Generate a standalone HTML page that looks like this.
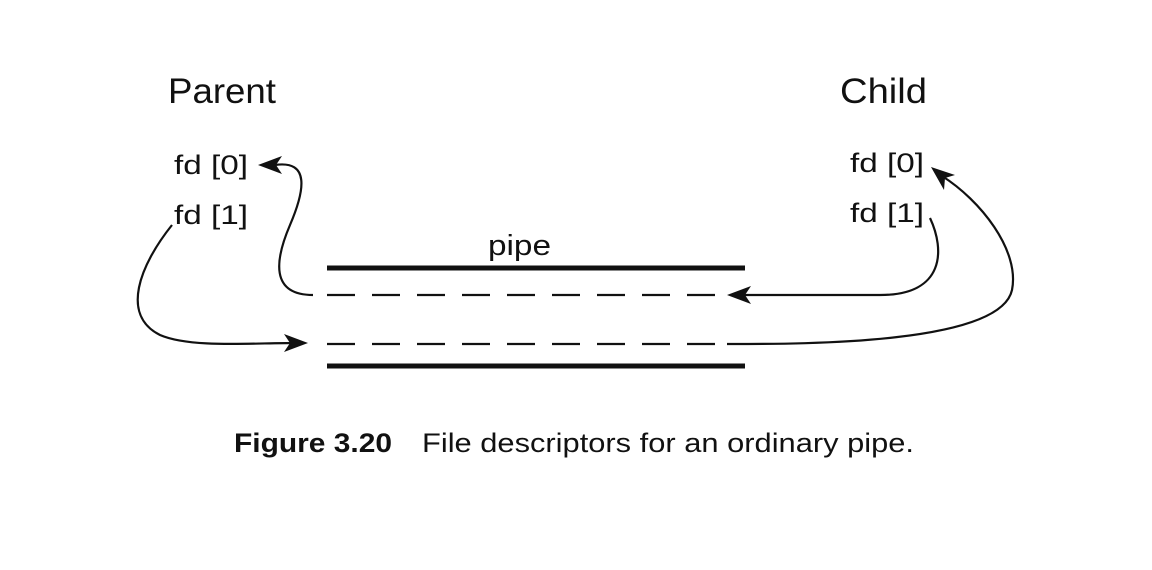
<!DOCTYPE html>
<html><head><style>
html,body{margin:0;padding:0;background:#fff;}
svg{display:block;}
text{font-family:"Liberation Sans",sans-serif;fill:#111;}
</style></head><body>
<svg width="1152" height="570" viewBox="0 0 1152 570">
<text x="168" y="103" font-size="35" textLength="108" lengthAdjust="spacingAndGlyphs">Parent</text>
<text x="840" y="103" font-size="35" textLength="87" lengthAdjust="spacingAndGlyphs">Child</text>
<text x="174" y="174" font-size="27" textLength="74" lengthAdjust="spacingAndGlyphs">fd [0]</text>
<text x="174" y="224" font-size="27" textLength="74" lengthAdjust="spacingAndGlyphs">fd [1]</text>
<text x="850" y="172" font-size="27" textLength="74" lengthAdjust="spacingAndGlyphs">fd [0]</text>
<text x="850" y="222" font-size="27" textLength="74" lengthAdjust="spacingAndGlyphs">fd [1]</text>
<text x="488" y="255" font-size="29" textLength="63" lengthAdjust="spacingAndGlyphs">pipe</text>
<line x1="327" y1="268" x2="745" y2="268" stroke="#111" stroke-width="5"/>
<line x1="327" y1="366" x2="745" y2="366" stroke="#111" stroke-width="5"/>
<line x1="327" y1="295" x2="718" y2="295" stroke="#111" stroke-width="2.2" stroke-dasharray="28 17"/>
<line x1="327" y1="344" x2="718" y2="344" stroke="#111" stroke-width="2.2" stroke-dasharray="28 17"/>
<g fill="none" stroke="#111" stroke-width="2.2">
<path d="M313,295 C270,295 275,260 290,225 C305,190 310,160 275,165"/>
<path d="M172,225 C140,265 120,315 160,335 C190,348 250,343 295,343"/>
<path d="M930,218 C945,250 945,295 880,295 L742,295"/>
<path d="M727,344 C800,344 1000,345 1012,290 C1020,250 980,200 942,176"/>
</g>
<g fill="#111">
<polygon points="258,165 282,156 276,165 282,174"/>
<polygon points="308,343 284,334 290,343 284,352"/>
<polygon points="727,295 751,286 745,295 751,304"/>
<polygon points="931,167 955,175 945,178 944,190"/>
</g>
<text x="234" y="452" font-size="27" font-weight="bold" textLength="158" lengthAdjust="spacingAndGlyphs">Figure 3.20</text>
<text x="422" y="452" font-size="27" textLength="492" lengthAdjust="spacingAndGlyphs">File descriptors for an ordinary pipe.</text>
</svg>
</body></html>
